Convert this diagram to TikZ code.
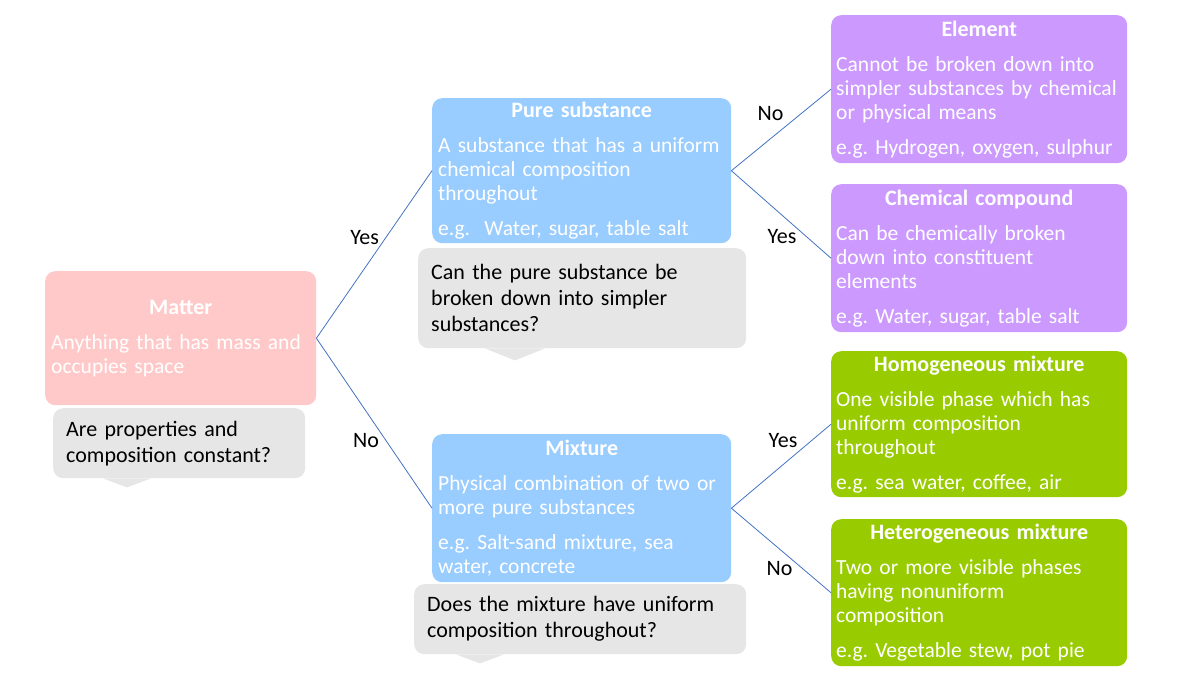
\documentclass[tikz,border=0pt]{standalone}
\usepackage{fontspec}
\setmainfont{Carlito}
\frenchspacing
\definecolor{mattpink}{HTML}{FFC9C9}
\definecolor{purblue}{HTML}{99CCFF}
\definecolor{elpurple}{HTML}{CC99FF}
\definecolor{mixgreen}{HTML}{99CC00}
\definecolor{askgray}{HTML}{E6E6E6}
\definecolor{linkblue}{HTML}{4472C4}
\newcommand\boxhead[1]{{\centering\fontsize{22}{24}\selectfont\bfseries #1\par}\vspace{11pt}}
\newcommand\egline{\par\vspace{11pt}}
\begin{document}
\begin{tikzpicture}[x=1pt, y=-1pt,
    box/.style={anchor=north west, rounded corners=10pt, text=white, align=left,
      inner xsep=6pt, inner ysep=2pt, font=\fontsize{21.5}{24}\selectfont},
    ask/.style={anchor=north west, rounded corners=10pt, fill=askgray, align=left,
      inner xsep=13pt, font=\fontsize{22}{26}\selectfont},
    link/.style={draw=linkblue, line width=0.8pt},
    answer/.style={text=black, font=\fontsize{22}{24}\selectfont}]
  \useasboundingbox (0,0) rectangle (1200,675);
  % main boxes
  \node[box, fill=mattpink, minimum width=271pt, minimum height=134pt, text width=259pt] (matter) at (45,271)
    {\boxhead{Matter}Anything that has mass and\\occupies space};
  \node[box, fill=purblue, minimum width=299pt, minimum height=145pt, text width=287pt] (pure) at (432,98)
    {\boxhead{Pure substance}A substance that has a uniform\\chemical composition\\throughout\egline e.g.\ \ Water, sugar, table salt};
  \node[box, fill=purblue, minimum width=299pt, minimum height=148pt, text width=287pt] (mixture) at (432,434)
    {\boxhead{Mixture}Physical combination of two or\\more pure substances\egline e.g. Salt-sand mixture, sea\\water, concrete};
  \node[box, fill=elpurple, minimum width=296pt, minimum height=148pt, text width=286pt, inner xsep=5pt] (element) at (831,15)
    {\boxhead{Element}Cannot be broken down into\\simpler substances by chemical\\or physical means\egline e.g. Hydrogen, oxygen, sulphur};
  \node[box, fill=elpurple, minimum width=296pt, minimum height=148pt, text width=286pt, inner xsep=5pt] (compound) at (831,184)
    {\boxhead{Chemical compound}Can be chemically broken\\down into constituent\\elements\egline e.g. Water, sugar, table salt};
  \node[box, fill=mixgreen, minimum width=296pt, minimum height=146pt, text width=286pt, inner xsep=5pt] (homog) at (831,351)
    {\boxhead{Homogeneous mixture}One visible phase which has\\uniform composition\\throughout\egline e.g. sea water, coffee, air};
  \node[box, fill=mixgreen, minimum width=296pt, minimum height=147pt, text width=286pt, inner xsep=5pt] (hetero) at (831,519)
    {\boxhead{Heterogeneous mixture}Two or more visible phases\\having nonuniform\\composition\egline e.g. Vegetable stew, pot pie};
  % questions
  \node[ask, minimum width=252pt, minimum height=70pt, text width=226pt] (askmatter) at (53,408)
    {Are properties and\\composition constant?};
  \fill[askgray] ([xshift=50pt]askmatter.south west) -- ++(24,9) -- ++(24,-9) -- cycle;
  \node[ask, minimum width=328pt, minimum height=100pt, text width=302pt] (askpure) at (418,248)
    {Can the pure substance be\\broken down into simpler\\substances?};
  \fill[askgray] ([xshift=67pt]askpure.south west) -- ++(30,12) -- ++(30,-12) -- cycle;
  \node[ask, minimum width=332pt, minimum height=70pt, text width=306pt] (askmix) at (414,584)
    {Does the mixture have uniform\\composition throughout?};
  \fill[askgray] ([xshift=42pt]askmix.south west) -- ++(24,9) -- ++(24,-9) -- cycle;
  % connectors
  \draw[link] (matter.east) -- node[pos=.6, left=3pt, answer] (yes1) {Yes} (pure.west);
  \draw[link] (matter.east) -- node[pos=.6, left=3pt, answer] (no1) {No} (mixture.west);
  \draw[link] (pure.east) -- node[pos=.7, left=14pt, answer] (no2) {No} (element.west);
  \draw[link] (pure.east) -- node[pos=.75, left=6pt, answer] (yes2) {Yes} (compound.west);
  \draw[link] (mixture.east) -- node[pos=.8, left=10pt, answer] (yes3) {Yes} (homog.west);
  \draw[link] (mixture.east) -- node[pos=.71, left=6pt, answer] (no3) {No} (hetero.west);
\end{tikzpicture}
\end{document}
